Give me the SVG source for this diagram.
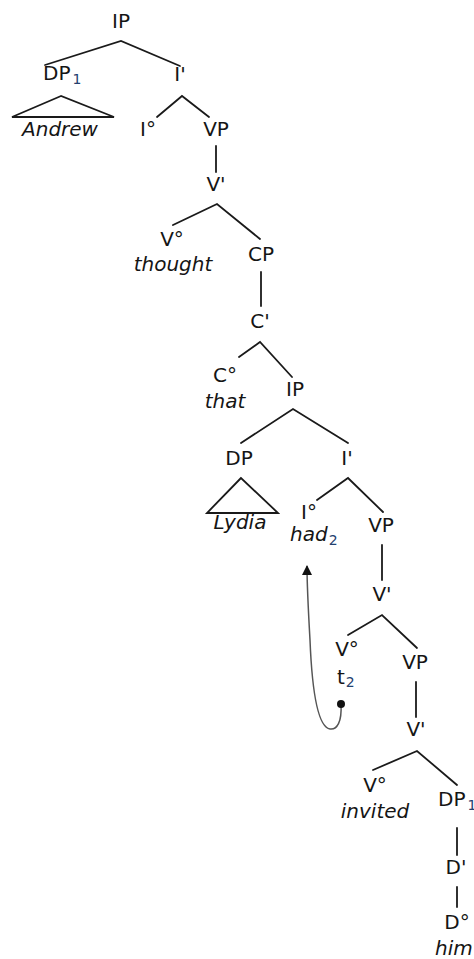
<svg xmlns="http://www.w3.org/2000/svg" width="474" height="959" viewBox="0 0 474 959">
  <style>
    .lbl { font-family: "DejaVu Sans", "Liberation Sans", sans-serif; font-size: 20px; fill: #151515; text-anchor: middle; }
    .word { font-style: italic; }
    .sub { font-size: 14px; fill: #23406e; }
    .edge { stroke: #1a1a1a; stroke-width: 1.8; fill: none; stroke-linecap: round; }
    .tri { stroke: #1a1a1a; stroke-width: 1.8; fill: none; stroke-linejoin: miter; }
    .move { stroke: #555; stroke-width: 1.5; fill: none; }
  </style>
  <defs>
    <marker id="head" viewBox="0 0 10 10" refX="9" refY="5" markerWidth="10" markerHeight="10" markerUnits="userSpaceOnUse" orient="auto">
      <path d="M0,0 L10,5 L0,10 Z" fill="#111"/>
    </marker>
  </defs>

  <!-- tree branches -->
  <g id="connectors">
    <path class="edge" d="M45,65 L121,41 L180,66"/>
    <path class="tri" d="M61,96 L12,117 L114,117 Z"/>
    <path class="edge" d="M157,117 L182,96 L209,117"/>
    <path class="edge" d="M216,146 L216,172"/>
    <path class="edge" d="M173,225 L217,204 L260,239"/>
    <path class="edge" d="M261,272 L261,306"/>
    <path class="edge" d="M239,357 L260,342 L292,377"/>
    <path class="edge" d="M241,443 L293,409 L348,443"/>
    <path class="tri" d="M241,478 L207,513 L278,513 Z"/>
    <path class="edge" d="M317,500 L348,478 L383,512"/>
    <path class="edge" d="M382,545 L382,580"/>
    <path class="edge" d="M348,635 L382,615 L417,648"/>
    <path class="edge" d="M416,682 L416,717"/>
    <path class="edge" d="M373,770 L417,751 L457,785"/>
    <path class="edge" d="M457,828 L457,855"/>
    <path class="edge" d="M457,887 L457,907"/>
    <!-- head movement: trace t2 up to had2 -->
    <path class="move" d="M341,704 C342,722 337,730 330,729 C318,727 312,690 310,640 C308,605 307,585 307,566" marker-end="url(#head)"/>
    <circle cx="341" cy="704" r="4" fill="#111"/>
  </g>

  <!-- main clause -->
  <g id="ip1"><text class="lbl" x="121" y="28">IP</text></g>
  <g id="dp1"><text class="lbl" x="43" y="80" style="text-anchor:start">DP<tspan class="sub" dx="2" dy="4">1</tspan></text></g>
  <g id="andrew"><text class="lbl word" x="60" y="136">Andrew</text></g>
  <g id="ibar1"><text class="lbl" x="180" y="81">I'</text></g>
  <g id="i1"><text class="lbl" x="148" y="136">I°</text></g>
  <g id="vp1"><text class="lbl" x="216" y="136">VP</text></g>
  <g id="vbar1"><text class="lbl" x="216" y="191">V'</text></g>
  <g id="v1"><text class="lbl" x="172" y="246">V°</text></g>
  <g id="thought"><text class="lbl word" x="173" y="271">thought</text></g>
  <g id="cp"><text class="lbl" x="261" y="261">CP</text></g>
  <g id="cbar"><text class="lbl" x="260" y="328">C'</text></g>
  <g id="c0"><text class="lbl" x="225" y="382">C°</text></g>
  <g id="that"><text class="lbl word" x="225" y="408">that</text></g>

  <!-- embedded clause -->
  <g id="ip2"><text class="lbl" x="295" y="396">IP</text></g>
  <g id="dp2"><text class="lbl" x="239" y="465">DP</text></g>
  <g id="lydia"><text class="lbl word" x="240" y="529">Lydia</text></g>
  <g id="ibar2"><text class="lbl" x="347" y="465">I'</text></g>
  <g id="i2"><text class="lbl" x="309" y="519">I°</text></g>
  <g id="had"><text class="lbl word" x="290" y="541" style="text-anchor:start">had<tspan class="sub" style="font-style:normal" dx="1" dy="4">2</tspan></text></g>
  <g id="vp2"><text class="lbl" x="381" y="532">VP</text></g>
  <g id="vbar2"><text class="lbl" x="382" y="601">V'</text></g>
  <g id="v2"><text class="lbl" x="347" y="656">V°</text></g>
  <g id="trace"><text class="lbl" x="337" y="684" style="text-anchor:start">t<tspan class="sub" dx="1" dy="3">2</tspan></text></g>
  <g id="vp3"><text class="lbl" x="415" y="669">VP</text></g>
  <g id="vbar3"><text class="lbl" x="416" y="736">V'</text></g>
  <g id="v3"><text class="lbl" x="375" y="792">V°</text></g>
  <g id="invited"><text class="lbl word" x="375" y="818">invited</text></g>
  <g id="dp3"><text class="lbl" x="438" y="806" style="text-anchor:start">DP<tspan class="sub" dx="2" dy="4">1</tspan></text></g>
  <g id="dbar"><text class="lbl" x="456" y="874">D'</text></g>
  <g id="d0"><text class="lbl" x="457" y="929">D°</text></g>
  <g id="him"><text class="lbl word" x="435" y="955" style="text-anchor:start">him</text></g>
</svg>
